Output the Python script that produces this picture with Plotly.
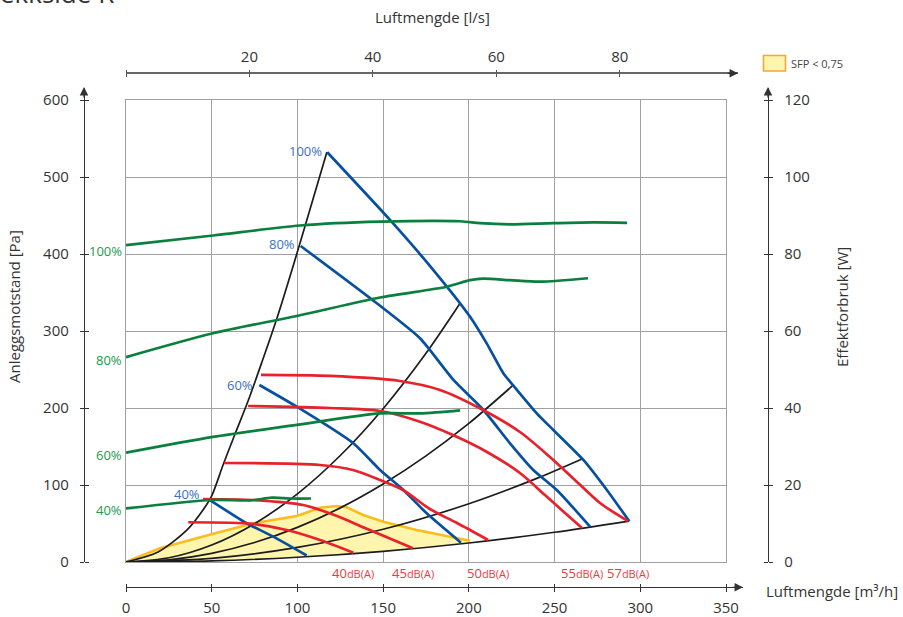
import plotly.graph_objects as go

W, H = 903, 617
FONT = "Open Sans"

# ---------------- data ----------------
# System curves (black): airflow [m3/h] vs pressure [Pa]
sys1_x = [0, 18.7, 35.6, 44.9, 50.2, 56.6, 63.6, 71.2, 79.3, 88.1, 96.8, 106.7, 117.2]
sys1_y = [0, 13, 41.6, 67.5, 87, 126, 166.2, 209.1, 259.7, 316.9, 379.2, 453.2, 532.5]
sys2_x = [0, 25, 50, 75, 100, 125, 150, 175, 194.9]
sys2_y = [0, 5.5, 22.1, 49.8, 88.5, 138.3, 199.1, 271, 336]
sys3_x = [0, 25, 50, 75, 100, 125, 150, 175, 200, 226]
sys3_y = [0, 2.8, 11.3, 25.3, 45, 70.3, 101.3, 137.8, 180, 229.9]
sys4_x = [0, 50, 100, 150, 200, 240, 266]
sys4_y = [0, 4.7, 18.9, 42.5, 75.6, 108.9, 133.8]
sys5_x = [0, 50, 100, 150, 200, 250, 293.5]
sys5_y = [0, 1.5, 6.2, 13.9, 24.7, 38.6, 53.2]

# Fan curves (blue): airflow [m3/h] vs pressure [Pa]
fan_labels = ["100%", "80%", "60%", "40%"]
fan100_x = [117.4, 154, 179.3, 200.7, 210.4, 220.1, 226, 239.6, 249.3, 266.8, 280.5, 293.6]
fan100_y = [532.1, 444.2, 379.2, 318.6, 284, 245.1, 229, 193.1, 171.4, 132.5, 93.5, 52.9]
fan80_x = [101.9, 146.3, 171.5, 191, 208.5, 224, 237.6, 251.3, 270.7]
fan80_y = [410.4, 336, 290.5, 236.4, 197.4, 154.2, 119.5, 93.5, 45.8]
fan60_x = [77.8, 99.6, 132.6, 148.2, 161.8, 175.4, 195.4]
fan60_y = [229.9, 201.7, 154.2, 119.5, 93.5, 63.2, 25.1]
fan40_x = [48.5, 70.4, 85.9, 105.4]
fan40_y = [81, 50.3, 32.9, 8.4]

# Sound level curves (red): airflow [m3/h] vs pressure [Pa]
snd_labels = ["40", "45", "50", "55", "57"]
snd40_x = [36.3, 74.3, 93.7, 113.2, 132.6]
snd40_y = [51.6, 49.4, 41.6, 28.6, 12.1]
snd45_x = [44.9, 74.1, 103.3, 123.1, 139.4, 167.4]
snd45_y = [81.8, 80.5, 74, 59.7, 44.2, 17.8]
snd50_x = [57.2, 113.2, 132.4, 148.2, 161.6, 177.3, 193.1, 211.2]
snd50_y = [128.6, 126, 119.5, 106.5, 93.5, 68.8, 50.6, 28.6]
snd55_x = [71.2, 119, 148.2, 171.5, 190.7, 210.6, 229.8, 244.4, 256.1, 266]
snd55_y = [202.6, 200, 196.1, 182.2, 164.9, 142.9, 115.6, 87, 63.6, 44.2]
snd57_x = [78.75, 119, 159.8, 183.2, 208.3, 229.8, 247.3, 261.9, 276.5, 292.8]
snd57_y = [242.9, 241.6, 235.1, 223.4, 197.4, 168.8, 136.4, 106.5, 76.6, 53.2]

# Power consumption (green): airflow [m3/h] vs power [W]
pow100_x = [0, 50.8, 101.5, 148.2, 194.9, 206.5, 224, 249.1, 272.5, 292.3]
pow100_y = [82.3, 84.8, 87.4, 88.4, 88.5, 88.0, 87.7, 88.0, 88.2, 88.1]
pow80_x = [0, 50.8, 99.6, 148.2, 187.1, 200.7, 208.3, 224, 241.5, 269.5]
pow80_y = [53.2, 59.4, 63.9, 68.7, 71.5, 73.2, 73.6, 73.2, 72.8, 73.7]
pow60_x = [0, 50.8, 99.6, 148.2, 171.5, 194.9]
pow60_y = [28.4, 32.5, 35.6, 38.6, 38.6, 39.4]
pow40_x = [0, 50.2, 72.3, 85.2, 95.7, 107.9]
pow40_y = [13.9, 16.1, 16.0, 16.7, 16.5, 16.5]

# SFP < 0,75 region (upper boundary), lower boundary follows sys5
sfp_x = [0, 19.8, 50.4, 74.3, 99.6, 113.2, 122.9, 128.8, 138.4, 150.1, 169.6, 189, 200.7]
sfp_y = [0, 17.8, 36.4, 50.3, 59.7, 70.5, 72.7, 71, 61, 52.3, 41.6, 32.9, 27.7]

x_ticks = [0, 50, 100, 150, 200, 250, 300, 350]
ls_ticks = [0, 20, 40, 60, 80]
ls_ticktext = ["", "20", "40", "60", "80"]
pa_ticks = [0, 100, 200, 300, 400, 500, 600]
w_ticks = [0, 20, 40, 60, 80, 100, 120]

# ---------------- colours ----------------
C_BLACK = "#1c1c1c"
C_BLUE = "#0750a0"
C_RED = "#e8212b"
C_GREEN = "#0b7f3d"
C_BLUE_T = "#3b70c2"
C_RED_T = "#ec3a40"
C_GREEN_T = "#219a4d"
C_GRID = "#a0a0a0"
C_AX = "#333333"

fig = go.Figure()

# SFP fill
lo_x = [x for x in sys5_x if x <= sfp_x[-1]][::-1]
lo_y = [y for x, y in zip(sys5_x, sys5_y) if x <= sfp_x[-1]][::-1]
fig.add_trace(go.Scatter(x=sfp_x + lo_x, y=sfp_y + lo_y, fill="toself",
                         fillcolor="#fff5ad", line=dict(width=0), mode="lines",
                         hoverinfo="skip", showlegend=False))
fig.add_trace(go.Scatter(x=sfp_x, y=sfp_y, mode="lines",
                         line=dict(color="#fbbd1e", width=2.6),
                         hoverinfo="skip", showlegend=False))

for xs, ys in [(sys1_x, sys1_y), (sys2_x, sys2_y), (sys3_x, sys3_y),
               (sys4_x, sys4_y), (sys5_x, sys5_y)]:
    fig.add_trace(go.Scatter(x=xs, y=ys, mode="lines",
                             line=dict(color=C_BLACK, width=1.7, shape="spline", smoothing=0.8),
                             hoverinfo="skip", showlegend=False))

pows = [(pow100_x, pow100_y), (pow80_x, pow80_y), (pow60_x, pow60_y), (pow40_x, pow40_y)]
for xs, ys in pows:
    fig.add_trace(go.Scatter(x=xs, y=ys, mode="lines", yaxis="y2",
                             line=dict(color=C_GREEN, width=2.7, shape="spline", smoothing=0.8),
                             hoverinfo="skip", showlegend=False))

fans = [(fan100_x, fan100_y), (fan80_x, fan80_y), (fan60_x, fan60_y), (fan40_x, fan40_y)]
for xs, ys in fans:
    fig.add_trace(go.Scatter(x=xs, y=ys, mode="lines",
                             line=dict(color=C_BLUE, width=2.7, shape="spline", smoothing=0.6),
                             hoverinfo="skip", showlegend=False))

snds = [(snd40_x, snd40_y), (snd45_x, snd45_y), (snd50_x, snd50_y),
        (snd55_x, snd55_y), (snd57_x, snd57_y)]
for xs, ys in snds:
    fig.add_trace(go.Scatter(x=xs, y=ys, mode="lines",
                             line=dict(color=C_RED, width=2.7, shape="spline", smoothing=0.8),
                             hoverinfo="skip", showlegend=False))

# dummy traces so the decorative axes get drawn
for xa in ["x2", "x3", "x4", "x5"]:
    fig.add_trace(go.Scatter(x=[None], y=[None], xaxis=xa, yaxis="y7",
                             showlegend=False, hoverinfo="skip"))
for ya in ["y3", "y4", "y5", "y6"]:
    fig.add_trace(go.Scatter(x=[None], y=[None], xaxis="x6", yaxis=ya,
                             showlegend=False, hoverinfo="skip"))

tf = dict(family=FONT, size=15, color="#333333")

X0, X1, YB, YT = 126, 726, 562, 100
xdom = [X0 / W, X1 / W]
ydom = [1 - YB / H, 1 - YT / H]
scale_x = (X1 - X0) / 350.0
scale_y = (YB - YT) / 600.0

bot_end, top_end, axis_top = 743, 738, 88
bot_range = (bot_end - X0) / scale_x
top_range = (top_end - X0) / scale_x / 3.6
lr_dom = [1 - YB / H, 1 - axis_top / H]
pa_range = (YB - axis_top) / scale_y
w_range = pa_range / 5.0

common_free = dict(showgrid=False, zeroline=False, fixedrange=True)

fig.update_layout(
    width=W, height=H,
    margin=dict(l=0, r=0, t=0, b=0, autoexpand=False),
    paper_bgcolor="white", plot_bgcolor="rgba(0,0,0,0)",
    hovermode=False, showlegend=False,
    font=dict(family=FONT, color="#333333"),
    xaxis=dict(domain=xdom, range=[0, 350], anchor="y", showgrid=True,
               gridcolor=C_GRID, gridwidth=1.3, tickvals=[50, 100, 150, 200, 250, 300],
               showticklabels=False, ticks="", showline=True, linecolor=C_GRID,
               linewidth=1.3, mirror=True, zeroline=False, fixedrange=True),
    yaxis=dict(domain=ydom, range=[0, 600], anchor="x", showgrid=True,
               gridcolor=C_GRID, gridwidth=1.3, tickvals=[100, 200, 300, 400, 500],
               showticklabels=False, ticks="", showline=True, linecolor=C_GRID,
               linewidth=1.3, mirror=True, zeroline=False, fixedrange=True),
    yaxis2=dict(overlaying="y", range=[0, 120], visible=False, anchor="x"),
    # bottom airflow axis
    xaxis2=dict(domain=[X0 / W, bot_end / W], range=[0, bot_range], anchor="free",
                position=1 - 587.3 / H, side="bottom", tickvals=x_ticks, ticks="outside",
                ticklen=4, tickwidth=1.2, tickcolor=C_AX, showline=True, linecolor=C_AX,
                linewidth=1.3, tickfont=tf, ticklabelstandoff=3, **common_free),
    xaxis3=dict(domain=[X0 / W, bot_end / W], range=[0, bot_range], anchor="free",
                position=1 - 587.3 / H, side="top", tickvals=x_ticks, ticks="outside",
                ticklen=3, tickwidth=1.2, tickcolor=C_AX, showline=False,
                showticklabels=False, **common_free),
    # top l/s axis
    xaxis4=dict(domain=[X0 / W, top_end / W], range=[0, top_range], anchor="free",
                position=1 - 73.3 / H, side="top", tickvals=ls_ticks, ticktext=ls_ticktext,
                ticks="outside", ticklen=3, tickwidth=1.2, tickcolor="#555555",
                showline=True, linecolor="#666666", linewidth=1.5, tickfont=tf,
                ticklabelstandoff=2, **common_free),
    xaxis5=dict(domain=[X0 / W, top_end / W], range=[0, top_range], anchor="free",
                position=1 - 73.3 / H, side="bottom", tickvals=ls_ticks, ticks="outside",
                ticklen=3, tickwidth=1.2, tickcolor="#555555", showline=False,
                showticklabels=False, **common_free),
    # left Pa axis
    yaxis3=dict(domain=lr_dom, range=[0, pa_range], anchor="free", position=84 / W,
                side="left", tickvals=pa_ticks, ticks="outside", ticklen=4, tickwidth=1.2,
                tickcolor=C_AX, showline=True, linecolor=C_AX, linewidth=1.3,
                tickfont=tf, ticklabelstandoff=8, **common_free),
    yaxis4=dict(domain=lr_dom, range=[0, pa_range], anchor="free", position=84 / W,
                side="right", tickvals=pa_ticks, ticks="outside", ticklen=4, tickwidth=1.2,
                tickcolor=C_AX, showline=False, showticklabels=False, **common_free),
    # right W axis
    yaxis5=dict(domain=lr_dom, range=[0, w_range], anchor="free", position=768 / W,
                side="right", tickvals=w_ticks, ticks="outside", ticklen=4, tickwidth=1.2,
                tickcolor=C_AX, showline=True, linecolor=C_AX, linewidth=1.3,
                tickfont=tf, ticklabelstandoff=8, **common_free),
    yaxis6=dict(domain=lr_dom, range=[0, w_range], anchor="free", position=768 / W,
                side="left", tickvals=w_ticks, ticks="outside", ticklen=4, tickwidth=1.2,
                tickcolor=C_AX, showline=False, showticklabels=False, **common_free),
    xaxis6=dict(visible=False, anchor="free", position=0, domain=[0, 1], range=[0, 1]),
    yaxis7=dict(visible=False, anchor="free", position=0, domain=[0, 1], range=[0, 1]),
)

ann = []
# arrows
for (tx, ty, ax, ay) in [(84, axis_top - 1, 0, 12), (768, axis_top - 1, 0, 12),
                         (top_end, 73.3, -12, 0), (bot_end, 587.3, -12, 0)]:
    ann.append(dict(x=tx / W, y=1 - ty / H, xref="paper", yref="paper", text="",
                    showarrow=True, ax=ax, ay=ay, arrowhead=2, arrowsize=1.3,
                    arrowwidth=1.3, arrowcolor=C_AX))

# axis titles
ann.append(dict(x=432 / W, y=1 - 17 / H, xref="paper", yref="paper", showarrow=False,
                text="Luftmengde [l/s]", font=tf, xanchor="center", yanchor="middle"))
ann.append(dict(x=764 / W, y=1 - 591 / H, xref="paper", yref="paper", showarrow=False,
                text="Luftmengde [m³/h]", font=tf, xanchor="left", yanchor="middle"))
ann.append(dict(x=14 / W, y=1 - 307 / H, xref="paper", yref="paper", showarrow=False,
                text="Anleggsmotstand [Pa]", font=tf, textangle=-90,
                xanchor="center", yanchor="middle"))
ann.append(dict(x=842 / W, y=1 - 307 / H, xref="paper", yref="paper", showarrow=False,
                text="Effektforbruk [W]", font=tf, textangle=-90,
                xanchor="center", yanchor="middle"))
# cut-off heading at the very top
ann.append(dict(x=-2 / W, y=1 - 13 / H, xref="paper", yref="paper", showarrow=False,
                text="ekkside R", font=dict(family=FONT, size=26, color="#333333"),
                xanchor="left", yanchor="bottom"))
# legend
ann.append(dict(x=789 / W, y=1 - 63.5 / H, xref="paper", yref="paper", showarrow=False,
                text="SFP < 0,75", font=dict(family=FONT, size=11, color="#444444"),
                xanchor="left", yanchor="middle"))

# blue fan labels
fan_shift = [(-3, 1), (-4, 2), (-4, 0), (-7, 6)]
for lab, (xs, ys), (dx, dy) in zip(fan_labels, fans, fan_shift):
    ann.append(dict(x=xs[0], y=ys[0], xref="x", yref="y", text=lab, showarrow=False,
                    xanchor="right", yanchor="middle", xshift=dx, yshift=dy,
                    font=dict(family=FONT, size=13, color=C_BLUE_T)))
# green power labels
pow_shift = [-6, -3, -2, -2]
for lab, (xs, ys), dy in zip(fan_labels, pows, pow_shift):
    ann.append(dict(x=xs[0], y=ys[0], xref="x", yref="y2", text=lab, showarrow=False,
                    xanchor="right", yanchor="middle", xshift=-2, yshift=dy,
                    font=dict(family=FONT, size=13, color=C_GREEN_T)))
# red sound labels below the plot
for lab, (xs, ys) in zip(snd_labels, snds):
    ann.append(dict(x=xs[-1], y=1 - 573 / H, xref="x", yref="paper",
                    text=lab + "<span style='font-size:11px'>dB(A)</span>",
                    showarrow=False, xanchor="center", yanchor="middle",
                    font=dict(family=FONT, size=13, color=C_RED_T)))

fig.update_layout(annotations=ann)

fig.add_shape(type="rect", xref="paper", yref="paper",
              x0=763.5 / W, x1=785.5 / W, y0=1 - 71 / H, y1=1 - 55.5 / H,
              fillcolor="#fff5ad", line=dict(color="#f6a634", width=1.6))

fig.write_html("out.html", config={"displayModeBar": False},
               post_script="document.body.style.margin='0px';")
